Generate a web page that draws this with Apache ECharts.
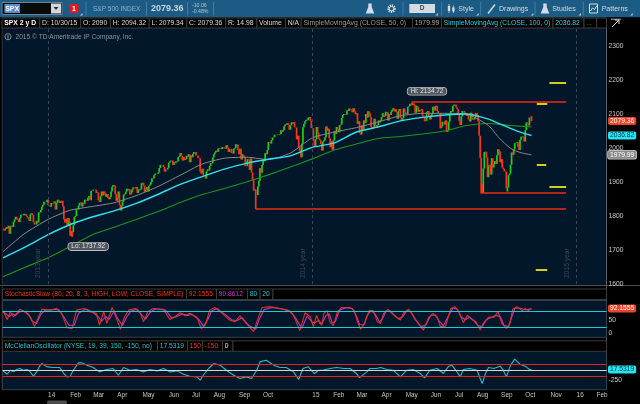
<!DOCTYPE html>
<html><head><meta charset="utf-8">
<script src="https://cdn.jsdelivr.net/npm/echarts@6/dist/echarts.min.js"></script>
<style>html,body{margin:0;padding:0;background:#000;}#c{width:640px;height:404px;}</style>
</head><body><div id="c"></div>
<script>
// ================= DATA =================
const startDate = '2013-10-30';
const slotCount = 576;
const holidays = ['2013-11-28','2013-12-25','2014-01-01','2014-01-20','2014-02-17','2014-04-18','2014-05-26','2014-07-04','2014-09-01','2014-11-27','2014-12-25','2015-01-01','2015-01-19','2015-02-16','2015-04-03','2015-05-25','2015-07-03','2015-09-07','2015-11-26','2015-12-25','2016-01-01','2016-01-18','2016-02-15'];

const closes2013 = [1763,1757,
 1762,1767,1763,1771,1748,1770,1771,1768,1783,1790,1798,1792,1788,1782,1795,1804,1803,1802,1807,1806,
 1800,1796,1793,1785,1805,1808,1802,1782,1775,1775,1786,1781,1811,1810,1818,1828,1833,1842,1841,1841,1848];
const closes2014 = [
 1832,1831,1827,1838,1837,1838,1843,1819,1839,1848,1845,1838,1844,1845,1829,1790,1781,1792,1774,1794,1783,
 1742,1755,1752,1773,1797,1800,1820,1819,1830,1838,1840,1828,1839,1836,1848,1847,1845,1854,1859,
 1846,1874,1874,1877,1878,1877,1868,1869,1846,1841,1858,1872,1861,1872,1866,1857,1865,1852,1849,1857,1872,
 1886,1891,1889,1865,1845,1852,1872,1833,1816,1830,1843,1863,1865,1872,1880,1876,1879,1863,1869,1878,1884,
 1883,1881,1885,1868,1879,1876,1878,1896,1898,1889,1871,1878,1885,1872,1889,1893,1900,1911,1910,1920,1924,
 1925,1924,1928,1941,1950,1951,1951,1944,1931,1937,1937,1942,1957,1960,1963,1963,1950,1959,1957,1961,1960,
 1973,1975,1985,1977,1963,1973,1965,1968,1977,1974,1982,1958,1978,1973,1983,1988,1988,1978,1978,1970,1970,1931,
 1925,1939,1920,1920,1910,1932,1937,1934,1947,1956,1955,1972,1982,1987,1992,1988,1998,2000,2000,1997,2003,
 2002,2001,1998,2008,2001,1988,1996,1997,1985,1984,1998,2001,2011,2010,1994,1982,1998,1966,1982,1978,1972,
 1946,1946,1967,1964,1935,1969,1928,1906,1875,1878,1862,1862,1887,1904,1941,1927,1950,1965,1961,1985,1982,1994,2018,
 2017,2013,2023,2031,2032,2039,2039,2038,2039,2040,2041,2052,2048,2052,2064,2069,2068,2073,2068,
 2054,2067,2075,2072,2076,2061,2060,2026,2036,2003,1990,1973,2013,2061,2071,2079,2083,2082,2089,2091,2080,2059];
const closes2015 = [
 2058,2021,2003,2026,2062,2045,2028,2023,2012,1993,2019,2023,2032,2063,2051,2057,2029,2002,2021,1995,
 2021,2050,2041,2062,2055,2046,2068,2069,2089,2097,2100,2100,2098,2110,2109,2116,2114,2111,2105,
 2117,2108,2099,2102,2071,2079,2044,2040,2066,2053,2081,2074,2100,2090,2108,2104,2091,2062,2056,2061,2086,2068,
 2059,2067,2081,2076,2082,2091,2102,2092,2095,2107,2105,2081,2100,2097,2107,2112,2117,2108,2114,2106,2086,
 2108,2115,2090,2080,2088,2116,2105,2099,2099,2121,2123,2130,2128,2126,2131,2126,2104,2124,2121,2107,
 2112,2110,2114,2095,2092,2079,2080,2105,2109,2094,2084,2096,2100,2121,2110,2122,2124,2109,2102,2102,2058,2063,
 2077,2077,2069,2081,2047,2052,2077,2100,2109,2107,2124,2127,2128,2119,2115,2102,2080,2068,2093,2109,2109,2104,
 2098,2094,2100,2084,2078,2104,2084,2087,2084,2092,2103,2097,2079,2036,1971,1893,1868,1940,1988,1989,1972,
 1914,1949,1951,1922,1970,1943,1953,1962,1953,1979,1996,1990,1958,1967,1943,1939,1932,1931,1882,1884,1920,
 1924,1951,1987,1980,1996,2014,2015,2017,2004,1994,2024,2033,2034,2031,2019,2052,2075,2072,2066,2090,2089,2079.36];
const lastBar = {open: 2090, high: 2094.32, low: 2079.34, close: 2079.36};
const extremes = [
 {date:'2014-02-05', low:1737.92},
 {date:'2014-10-15', low:1820.66},
 {date:'2015-05-20', high:2134.72},
 {date:'2015-08-24', low:1867.01},
 {date:'2015-09-29', low:1871.91}
];

const maDays = [0,20,43,64,85,106,127,148,169,190,211,232,253,274,295,316,337,358,379,400,421,442,463,473,484,494,504];
const sma50  = [1695,1747,1790,1817,1828,1839,1860,1887,1920,1953,1970,1973,1966,1985,2030,2047,2060,2077,2095,2102,2102,2100,2066,2030,1999,1986,1979.99];
const sma100 = [1677,1707,1745,1775,1797,1815,1837,1864,1893,1916,1938,1955,1967,1977,2002,2015,2047,2062,2080,2090,2097,2100,2085,2072,2058,2046,2036.82];
const sma200 = [1621,1648,1677,1710,1745,1767,1790,1813,1840,1863,1881,1900,1921,1944,1968,1994,2012,2028,2034,2041,2050,2066,2072,2070,2066,2064,2062];

const stochK = [[0,84],[4,51],[7,80],[10,61],[13,74],[16,89],[21,80],[26,61],[30,24],[34,61],[37,89],[45,86],[51,92],[56,74],[61,20],[66,17],[70,86],[77,92],[83,80],[89,74],[92,30],[96,80],[99,36],[104,96],[107,67],[112,14],[116,61],[120,86],[126,92],[131,74],[134,42],[138,80],[143,92],[153,89],[159,51],[164,61],[169,76],[174,64],[178,74],[185,59],[189,17],[193,30],[197,86],[202,96],[209,74],[216,49],[221,42],[226,64],[232,36],[239,5],[242,42],[247,96],[255,99],[264,92],[272,86],[277,67],[283,9],[288,76],[293,61],[296,24],[299,66],[302,36],[304,30],[306,74],[309,84],[312,39],[315,28],[319,80],[323,96],[331,96],[335,84],[338,42],[341,14],[345,36],[349,84],[353,84],[357,42],[360,36],[363,74],[367,89],[371,74],[375,59],[379,49],[382,76],[387,89],[391,67],[396,36],[401,11],[406,59],[410,74],[414,61],[417,24],[422,26],[427,92],[431,99],[435,76],[439,39],[443,67],[447,51],[451,42],[455,11],[459,42],[463,59],[468,59],[472,80],[476,34],[480,17],[483,30],[486,89],[490,99],[495,84],[498,92],[501,84],[504,92.16]];
const stochD = [[0,80],[6,62],[9,72],[12,66],[15,78],[19,84],[24,72],[28,44],[32,36],[36,70],[40,86],[47,88],[53,88],[58,60],[63,28],[68,30],[72,74],[79,90],[85,80],[91,60],[94,44],[98,62],[101,50],[106,84],[109,56],[114,28],[118,60],[122,82],[128,90],[133,64],[136,52],[140,76],[145,90],[155,86],[161,56],[166,62],[171,72],[176,66],[180,70],[187,50],[191,26],[195,48],[199,84],[204,92],[211,72],[218,50],[223,46],[228,58],[234,30],[241,14],[244,48],[249,88],[257,96],[266,90],[274,82],[279,56],[285,18],[290,64],[295,40],[298,40],[301,48],[304,34],[308,66],[311,72],[314,38],[317,44],[321,86],[327,95],[333,92],[337,64],[340,32],[344,30],[347,64],[351,84],[355,70],[359,42],[362,54],[365,80],[369,84],[373,68],[377,54],[381,60],[385,84],[389,80],[393,50],[399,24],[403,30],[408,66],[412,68],[416,44],[420,28],[425,66],[429,94],[433,90],[437,60],[441,50],[445,60],[449,46],[453,28],[457,24],[461,50],[465,58],[470,66],[474,62],[478,28],[482,24],[485,58],[488,92],[492,94],[497,88],[500,88],[504,90.86]];
const mcclellan = [[0,-17],[4,-103],[7,0],[10,-43],[13,17],[16,43],[19,0],[23,17],[26,-43],[29,-154],[32,-43],[35,103],[37,171],[42,86],[48,69],[54,69],[58,-86],[61,-171],[64,-154],[67,0],[72,189],[75,189],[80,129],[86,69],[92,-43],[99,17],[105,43],[110,-129],[115,69],[121,0],[127,17],[134,-43],[140,17],[147,-17],[153,43],[159,-43],[166,-17],[172,-103],[178,-154],[185,-171],[188,-257],[191,-129],[196,43],[201,171],[207,129],[213,0],[220,-129],[226,-214],[232,-171],[237,-214],[242,0],[245,214],[251,257],[258,129],[264,69],[270,69],[277,-43],[282,-240],[286,43],[291,86],[297,-86],[301,0],[305,0],[312,43],[318,69],[325,43],[331,43],[337,-86],[340,-189],[347,-43],[350,43],[356,43],[360,69],[366,17],[372,0],[379,-171],[385,0],[391,17],[398,-86],[402,-197],[407,0],[414,43],[420,-86],[425,103],[428,129],[433,-43],[436,-171],[439,17],[445,43],[452,0],[455,-214],[457,-343],[460,-86],[463,69],[468,43],[474,103],[477,0],[480,-171],[484,129],[488,283],[493,154],[498,103],[503,0],[504,17.53]];

const tickDates  = ['2014-01-02','2014-02-03','2014-03-06','2014-04-08','2014-05-13','2014-06-18','2014-07-21','2014-08-19','2014-09-23','2014-10-24','2015-01-02','2015-02-02','2015-03-05','2015-04-09','2015-05-12','2015-06-16','2015-07-20','2015-08-18','2015-09-21','2015-10-22','2015-11-25','2016-01-04','2016-02-01'];
const tickLabels = ['14','Feb','Mar','Apr','May','Jun','Jul','Aug','Sep','Oct','15','Feb','Mar','Apr','May','Jun','Jul','Aug','Sep','Oct','Nov','16','Feb'];

const redLevels = [[2134.72,'2015-05-20','2015-12-17'],[1867.01,'2015-08-24','2015-12-17'],[1820.66,'2014-10-15','2015-12-17']];
const yellowLevels = [[2192,'2015-11-24','2015-12-17'],[2130,'2015-11-06','2015-11-20'],[1950,'2015-11-06','2015-11-19'],[1886,'2015-11-24','2015-12-17'],[1642,'2015-11-05','2015-11-20']];
const yearLines = [['2014-01-02','2013 year'],['2015-01-02','2014 year'],['2016-01-04','2015 year']];
const priceTicks = [1600,1700,1800,1900,2000,2100,2200,2300];

// ================= BUILD =================
const FONT = '"Liberation Sans", Arial, sans-serif';
function buildDates(start, n, hol) {
  const set = new Set(hol), out = [];
  const d = new Date(start + 'T00:00:00Z');
  while (out.length < n) {
    const wd = d.getUTCDay(), s = d.toISOString().slice(0, 10);
    if (wd !== 0 && wd !== 6 && !set.has(s)) out.push(s);
    d.setUTCDate(d.getUTCDate() + 1);
  }
  return out;
}
const dates = buildDates(startDate, slotCount, holidays);
const closes = closes2013.concat(closes2014, closes2015);
const candles = closes.map((c, i) => {
  const o = i ? closes[i - 1] : c;
  return [o, c, Math.min(o, c), Math.max(o, c)];
});
extremes.forEach(e => {
  const k = dates.indexOf(e.date);
  if (e.low != null) candles[k][2] = e.low;
  if (e.high != null) candles[k][3] = e.high;
});
const L = candles.length - 1;
candles[L] = [lastBar.open, lastBar.close, lastBar.low, lastBar.high];

const zip = (xs, ys) => xs.map((x, i) => [x, ys[i]]);
const tickMap = {}; tickDates.forEach((d, i) => tickMap[d] = tickLabels[i]);

const G = {left: 2.5, right: 33.5};
const grids = [
  Object.assign({top: 28, height: 256, outerBoundsMode: 'none'}, G),
  Object.assign({top: 306.4, height: 26.6, outerBoundsMode: 'none'}, G),
  Object.assign({top: 350.7, height: 39, outerBoundsMode: 'none'}, G)
];
const xAxes = [0, 1, 2].map(i => ({
  type: 'category', gridIndex: i, data: dates, boundaryGap: true,
  axisLine: {show: false}, axisTick: {show: false}, splitLine: {show: false},
  axisLabel: i === 2 ? {
    show: true, interval: (idx, v) => v in tickMap, formatter: v => tickMap[v] || '',
    align: 'left', color: '#c4c4c4', fontSize: 6.4, fontFamily: FONT, margin: 3
  } : {show: false}
}));
const yBase = {position: 'right', axisLine: {show: false}, axisTick: {show: false}, splitLine: {show: false}};
const lblStyle = {color: '#c8c8c8', fontSize: 6.7, fontFamily: FONT, margin: 2, align: 'left'};
const yAxes = [
  Object.assign({gridIndex: 0, min: 1600, max: 2353, interval: 100, axisLabel: Object.assign({formatter: v => priceTicks.includes(v) ? String(v) : ''}, lblStyle)}, yBase),
  Object.assign({gridIndex: 1, min: 0, max: 100, interval: 50, axisLabel: Object.assign({formatter: v => (v === 0 || v === 50) ? String(v) : ''}, lblStyle)}, yBase),
  Object.assign({gridIndex: 2, min: -500, max: 500, interval: 250, axisLabel: Object.assign({formatter: v => v === -250 ? '-250' : ''}, lblStyle)}, yBase)
];

function badge(val, text, bg, fg, border) {
  return {yAxis: val, lineStyle: {color: 'rgba(0,0,0,0)', width: 1, type: 'solid'},
    label: {show: true, position: 'end', distance: 1.5, formatter: text, backgroundColor: bg, color: fg,
      borderColor: border || bg, borderWidth: border ? 0.8 : 0, borderRadius: 2, padding: [1, 2, 0, 2],
      fontSize: 6.7, fontFamily: FONT, opacity: 1}};
}
function hline(val, color, w) {
  return {yAxis: val, lineStyle: {color: color, width: w, type: 'solid'}, label: {show: false}};
}
const drawLines = [];
redLevels.forEach(r => drawLines.push([{coord: [r[1], r[0]], lineStyle: {color: '#f2281a', width: 1.6, type: 'solid'}, label: {show: false}}, {coord: [r[2], r[0]]}]));
yellowLevels.forEach(r => drawLines.push([{coord: [r[1], r[0]], lineStyle: {color: '#e8e61a', width: 1.8, type: 'solid'}, label: {show: false}}, {coord: [r[2], r[0]]}]));
yearLines.forEach(y => drawLines.push({xAxis: y[0], lineStyle: {color: '#3b4653', width: 1, type: [3, 3]},
  label: {show: true, formatter: y[1], position: 'insideStartTop', distance: 6, color: '#3c4754', fontSize: 6.7, fontFamily: FONT}}));
drawLines.push(badge(closes[L], '2079.36', '#f0442a', '#ffffff'));
drawLines.push(badge(sma100[sma100.length - 1], '2036.82', '#27e4f0', '#083347'));
drawLines.push(badge(sma50[sma50.length - 1], '1979.99', '#8b8b8b', '#ffffff', '#c9c9c9'));

const bubble = {show: true, position: 'inside', color: '#e6e6e6', backgroundColor: '#50565d', borderColor: '#b9bdc2',
  borderWidth: 0.8, borderRadius: 3, padding: [1, 3, 0, 3], fontSize: 6.4, fontFamily: FONT};

const series = [
  {type: 'candlestick', name: 'SPX', xAxisIndex: 0, yAxisIndex: 0, data: candles, large: true, largeThreshold: 100,
    itemStyle: {color: '#1cd21c', color0: '#ff3414', borderColor: '#1cd21c', borderColor0: '#ff3414', borderWidth: 1.7},
    markLine: {silent: true, symbol: ['none', 'none'], animation: false, data: drawLines},
    markPoint: {silent: true, symbol: 'circle', symbolSize: 0.1, itemStyle: {color: 'rgba(0,0,0,0)'}, animation: false,
      data: [
        {coord: ['2015-05-20', 2134.72], label: Object.assign({formatter: 'Hi: 2134.72', offset: [15, -11]}, bubble)},
        {coord: ['2014-02-05', 1737.92], label: Object.assign({formatter: 'Lo: 1737.92', offset: [16, 9.5]}, bubble)}
      ]}},
  {type: 'line', name: 'SMA200', xAxisIndex: 0, yAxisIndex: 0, data: zip(maDays, sma200), showSymbol: false, smooth: 0.2,
    lineStyle: {color: '#1c961c', width: 1.1}, z: 3},
  {type: 'line', name: 'SMA50', xAxisIndex: 0, yAxisIndex: 0, data: zip(maDays, sma50), showSymbol: false, smooth: 0.2,
    lineStyle: {color: '#8a8a8a', width: 1}, z: 3},
  {type: 'line', name: 'SMA100', xAxisIndex: 0, yAxisIndex: 0, data: zip(maDays, sma100), showSymbol: false, smooth: 0.2,
    lineStyle: {color: '#2fe2ef', width: 1.4}, z: 4},
  {type: 'line', name: 'SlowD', xAxisIndex: 1, yAxisIndex: 1, data: stochD, showSymbol: false,
    lineStyle: {color: '#b43ad2', width: 1.1}, z: 3},
  {type: 'line', name: 'SlowK', xAxisIndex: 1, yAxisIndex: 1, data: stochK, showSymbol: false,
    lineStyle: {color: '#e8301c', width: 1.1}, z: 4,
    markLine: {silent: true, symbol: ['none', 'none'], animation: false,
      data: [hline(80, '#1fcad4', 1.2), hline(20, '#1fcad4', 1.2), badge(92.1555, '92.1555', '#f0442a', '#ffffff')]}},
  {type: 'line', name: 'McClellan', xAxisIndex: 2, yAxisIndex: 2, data: mcclellan, showSymbol: false,
    lineStyle: {color: '#22bccb', width: 1.1}, z: 4,
    markLine: {silent: true, symbol: ['none', 'none'], animation: false,
      data: [hline(150, '#e3241a', 1.2), hline(-150, '#e3241a', 1.2), hline(0, '#d8d8d8', 1), badge(17.5319, '17.5319', '#27e4f0', '#083347')]}}
];

// ---------- graphic chrome ----------
const gfx = [];
function rect(x, y, w, h, fill, stroke, z, r) {
  gfx.push({type: 'rect', silent: true, z: z == null ? -10 : z, shape: {x: x, y: y, width: w, height: h, r: r || 0},
    style: {fill: fill || 'none', stroke: stroke || 'none', lineWidth: stroke ? 1 : 0}});
}
function line(x1, y1, x2, y2, color, w, z) {
  gfx.push({type: 'line', silent: true, z: z == null ? -5 : z, shape: {x1: x1, y1: y1, x2: x2, y2: y2}, style: {stroke: color, lineWidth: w || 1}});
}
function txt(x, y, t, color, size, weight, z, align) {
  gfx.push({type: 'text', silent: true, z: z == null ? 50 : z, x: x, y: y,
    style: {text: t, fill: color, font: (weight || 'normal') + ' ' + size + 'px ' + FONT, align: align || 'left', verticalAlign: 'middle'}});
}
function poly(pts, fill, z) {
  gfx.push({type: 'polygon', silent: true, z: z == null ? 50 : z, shape: {points: pts}, style: {fill: fill}});
}

// backgrounds
rect(0, 0, 640, 17.5, '#1b5b84');
rect(0, 17.5, 640, 10.5, '#000');
rect(606.5, 17.5, 33.5, 386.5, '#000');
rect(0, 285.5, 606.5, 15, '#000');
rect(0, 337.3, 606.5, 13.4, '#000');
rect(0, 389.7, 640, 14.3, '#000');
rect(0, 28, 2, 362, '#000');
// pane borders
rect(2.5, 300.5, 604, 36.8, null, '#34404c', -4);
rect(2.5, 350.7, 604, 39, null, '#34404c', -4);
line(0, 285.5, 640, 285.5, '#4a4f55', 1);
line(606.5, 28, 606.5, 389.7, '#5a5f66', 1);
line(2.2, 28, 2.2, 389.7, '#2a3540', 1);
rect(47, 400.5, 20, 3.5, '#4d4d4d', null, -4, 1.5);

// toolbar
rect(2, 2.5, 60, 12, '#0a0a0a', '#6f8393', -3);
rect(4.5, 4, 15.5, 9, '#5a8ccc', null, -2);
txt(5.2, 8.6, 'SPX', '#ffffff', 7, 'bold');
rect(51, 3.5, 10, 10, '#d4d8dc', null, -2);
poly([[53.5, 7], [58.5, 7], [56, 10]], '#333');
rect(69.5, 4, 9, 9, '#e01b1b', null, -2, 1.5);
txt(74, 8.6, '1', '#ffffff', 7, 'bold', 50, 'center');
poly([[80, 15.5], [82.5, 15.5], [82.5, 13]], '#b9c9d6');
[86, 146.5, 187.5, 213.5, 403, 441.7, 480.7, 535, 583.3].forEach(x => line(x, 2, x, 15.5, '#3f7ca6', 1, -3));
txt(93, 8.8, 'S&P 500 INDEX', '#8fb1ca', 6.5);
txt(151, 8.9, '2079.36', '#c9d4dd', 9, 'bold');
txt(192, 5.2, '-10.06', '#bac5ce', 5.2);
txt(192, 11.8, '-0.48%', '#bac5ce', 5.2);
poly([[368.3, 3.5], [371.7, 3.5], [371.7, 7], [374.3, 13.5], [365.7, 13.5], [368.3, 7]], '#d2dce4');
gfx.push({type: 'circle', silent: true, z: 50, shape: {cx: 391.5, cy: 8.6, r: 3.3}, style: {fill: 'none', stroke: '#d2dce4', lineWidth: 2, lineDash: [1.3, 0.9]}});
gfx.push({type: 'circle', silent: true, z: 50, shape: {cx: 391.5, cy: 8.6, r: 2.2}, style: {fill: 'none', stroke: '#d2dce4', lineWidth: 1}});
rect(409.3, 4, 25.7, 9, '#d5dade', null, -2);
txt(422.2, 8.7, 'D', '#2a4a66', 6.5, 'bold', 50, 'center');
rect(447.8, 6, 2.4, 5, '#d2dce4', null, 49); line(449, 4, 449, 13, '#d2dce4', 0.8, 49);
rect(452.2, 7.5, 2.4, 4, '#d2dce4', null, 49); line(453.4, 5.5, 453.4, 13, '#d2dce4', 0.8, 49);
txt(458.3, 8.8, 'Style', '#d3dde6', 7);
line(488, 13.5, 495, 4.5, '#d2dce4', 1.5, 49);
txt(499, 8.8, 'Drawings', '#d3dde6', 7);
poly([[543.3, 3.5], [546.7, 3.5], [546.7, 7], [549.3, 13.5], [540.7, 13.5], [543.3, 7]], '#d2dce4');
txt(552.3, 8.8, 'Studies', '#d3dde6', 7);
rect(589.5, 4, 8, 9, null, '#d2dce4', 49);
gfx.push({type: 'polyline', silent: true, z: 50, shape: {points: [[590.5, 11], [592.5, 8], [594.5, 9.5], [597, 5.5]]}, style: {stroke: '#d2dce4', lineWidth: 1, fill: 'none'}});
txt(601.7, 8.8, 'Patterns', '#d3dde6', 7);
[437, 477.7, 532.3, 580, 631.7].forEach(x => poly([[x - 1.5, 15.5], [x + 1, 15.5], [x + 1, 13]], '#b9c9d6'));

// info row cells
const cells = [
  [2, 39.8, 'SPX 2 y D', '#ffffff', 'bold'],
  [39.8, 80.7, 'D: 10/30/15'], [80.7, 110.4, 'O: 2090'], [110.4, 149.2, 'H: 2094.32'],
  [149.2, 186.8, 'L: 2079.34'], [186.8, 225.6, 'C: 2079.36'], [225.6, 256.8, 'R: 14.98'],
  [256.8, 285.4, 'Volume'], [285.4, 301.2, 'N/A'],
  [301.2, 412.5, 'SimpleMovingAvg (CLOSE, 50, 0)', '#9c9c9c'], [412.5, 441.5, '1979.99', '#a4a4a4'],
  [441.5, 553, 'SimpleMovingAvg (CLOSE, 100, 0)', '#22d4e6'], [553, 584, '2036.82', '#22d4e6'],
  [584, 596.7, '...', '#1fa51f'], [596.7, 606.5, '']
];
cells.forEach(c => {
  rect(c[0], 18, c[1] - c[0], 10, '#000', '#3c3c3c', -3);
  if (c[2]) txt(c[0] + 2.3, 23.2, c[2], c[3] || '#d9d9d9', 6.8, c[4] || 'normal');
});
line(612, 27, 619, 20, '#e0e0e0', 1, 50); line(615, 20, 619, 20, '#e0e0e0', 1, 50); line(619, 20, 619, 24, '#e0e0e0', 1, 50);
line(611, 19.2, 621, 19.2, '#e0e0e0', 0.8, 50);

// copyright
gfx.push({type: 'circle', silent: true, z: 50, shape: {cx: 8, cy: 36.7, r: 3.1}, style: {fill: 'none', stroke: '#8c959e', lineWidth: 0.9}});
line(8, 35, 8, 38.6, '#8c959e', 1, 50);
txt(15.5, 36.9, '2015 \u00A9 TD Ameritrade IP Company, Inc.', '#8c959e', 6.6);

// study headers
const stochCells = [[2.5, 186.5, 'StochasticSlow (80, 20, 8, 3, HIGH, LOW, CLOSE, SIMPLE)', '#ef3b22'], [186.5, 216.5, '92.1555', '#ef3b22'],
  [216.5, 247.5, '90.8612', '#c93ad0'], [247.5, 260, '80', '#1fc9d6'], [260, 273, '20', '#1fc9d6'], [273, 606.5, '']];
stochCells.forEach(c => { rect(c[0], 289, c[1] - c[0], 10.5, '#000', '#3a3a3a', -3); if (c[2]) txt(c[0] + 2.3, 294.5, c[2], c[3], 6.7); });
const mcCells = [[2.5, 157.5, 'McClellanOscillator (NYSE, 19, 39, 150, -150, no)', '#22c6d6'], [157.5, 187.5, '17.5319', '#22c6d6'],
  [187.5, 202.5, '150', '#ef3b22'], [202.5, 222.5, '-150', '#ef3b22'], [222.5, 233, '0', '#e8e8e8'], [233, 606.5, '']];
mcCells.forEach(c => { rect(c[0], 340.8, c[1] - c[0], 10.5, '#000', '#3a3a3a', -3); if (c[2]) txt(c[0] + 2.3, 346.2, c[2], c[3], 6.7); });

const chart = echarts.init(document.getElementById('c'), null, {renderer: 'canvas'});
chart.setOption({
  animation: false,
  backgroundColor: '#03172b',
  textStyle: {fontFamily: FONT},
  grid: grids, xAxis: xAxes, yAxis: yAxes, series: series,
  graphic: {elements: gfx}
});
</script></body></html>
